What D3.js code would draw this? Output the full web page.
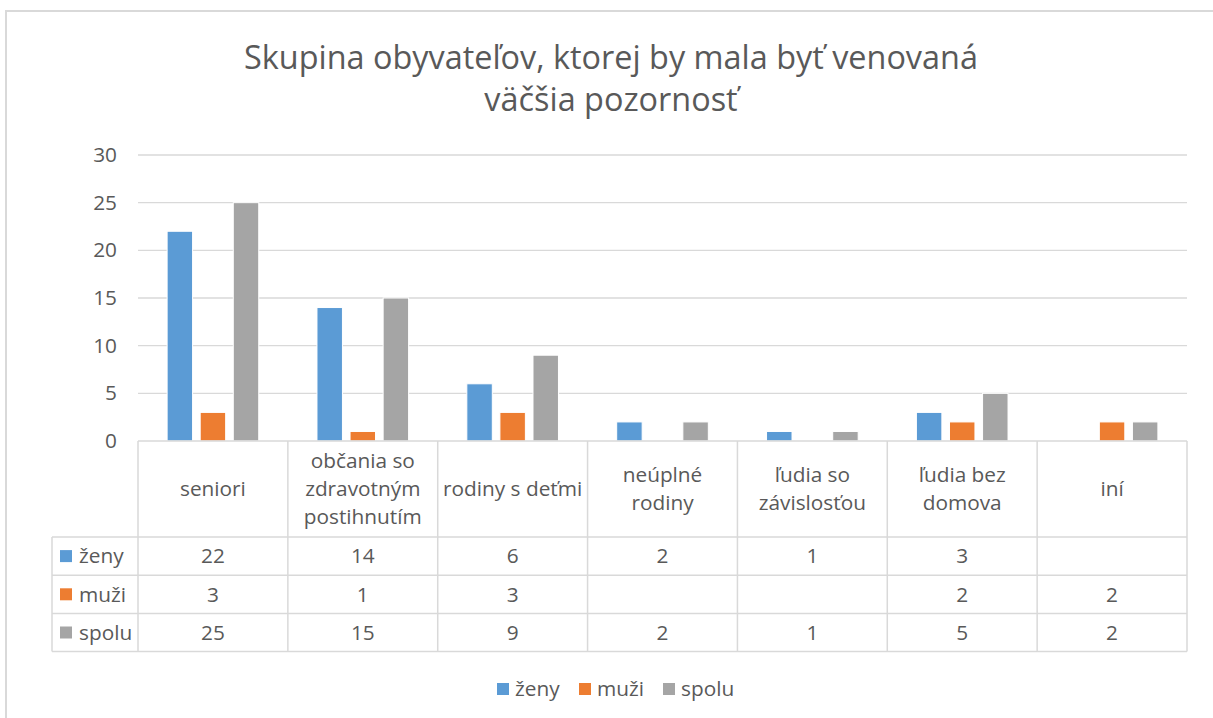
<!DOCTYPE html>
<html>
<head>
<meta charset="utf-8">
<script src="https://cdn.jsdelivr.net/npm/d3@7"></script>
<style>
  body { margin: 0; background: #fff; }
  text { font-family: "Open Sans", "Noto Sans", sans-serif; fill: #595959; }
</style>
</head>
<body>
<div id="chart"><svg></svg></div>
<script>
const titleLines = ["Skupina obyvateľov, ktorej by mala byť venovaná", "väčšia pozornosť"];

const categories = ["seniori", "občania so zdravotným postihnutím", "rodiny s deťmi",
  "neúplné rodiny", "ľudia so závislosťou", "ľudia bez domova", "iní"];
// how each category label is broken in the table header
const categoryLines = [
  ["seniori"],
  ["občania so", "zdravotným", "postihnutím"],
  ["rodiny s deťmi"],
  ["neúplné", "rodiny"],
  ["ľudia so", "závislosťou"],
  ["ľudia bez", "domova"],
  ["iní"]
];

const seriesNames = ["ženy", "muži", "spolu"];
const zeny = [22, 14, 6, 2, 1, 3, null];
const muzi = [3, 1, 3, null, null, 2, 2];
const spolu = [25, 15, 9, 2, 1, 5, 2];
const yTicks = [0, 5, 10, 15, 20, 25, 30];

const seriesValues = [zeny, muzi, spolu];
const colors = ["#5b9bd5", "#ed7d31", "#a5a5a5"];

const width = 1213;
const height = 718;
const fontSize = "20.8px";

const svg = d3.select("#chart svg")
  .attr("width", width)
  .attr("height", height);

// outer chart frame (runs off right / bottom edges like the screenshot)
svg.append("rect")
  .attr("x", 6).attr("y", 11)
  .attr("width", width + 10).attr("height", height + 10)
  .attr("fill", "#fff")
  .attr("stroke", "#d9d9d9")
  .attr("stroke-width", 2);

// title
svg.append("g")
  .selectAll("text")
  .data(titleLines)
  .join("text")
  .attr("x", 611)
  .attr("y", (d, i) => 69 + i * 42)
  .attr("text-anchor", "middle")
  .style("font-size", "32.4px")
  .text((d) => d);

const plotLeft = 138;
const plotRight = 1187;
const plotTop = 155;
const plotBottom = 441;

const x0 = d3.scaleBand()
  .domain(categories)
  .range([plotLeft, plotRight]);

const x1 = d3.scaleBand()
  .domain(seriesNames)
  .range([0, x0.bandwidth()])
  .paddingInner(0.23)
  .paddingOuter(0.88);

const y = d3.scaleLinear()
  .domain([0, 30])
  .range([plotBottom, plotTop]);

// gridlines
svg.append("g")
  .selectAll("line")
  .data(yTicks.filter((t) => t > 0))
  .join("line")
  .attr("x1", plotLeft)
  .attr("x2", plotRight)
  .attr("y1", (d) => y(d))
  .attr("y2", (d) => y(d))
  .attr("stroke", "#d9d9d9")
  .attr("stroke-width", 1.3);

// y axis labels
const yAxis = svg.append("g")
  .attr("transform", `translate(${plotLeft - 8},0)`)
  .call(d3.axisLeft(y).tickValues(yTicks).tickSize(0).tickPadding(13));
yAxis.select(".domain").remove();
yAxis.selectAll("text")
  .style("font-size", fontSize)
  .style("font-family", "'Open Sans', 'Noto Sans', sans-serif")
  .attr("fill", "#595959");

// bars
const barData = [];
categories.forEach((c, ci) => {
  seriesNames.forEach((s, si) => {
    const v = seriesValues[si][ci];
    if (v != null) barData.push({ cat: c, series: s, value: v, color: colors[si] });
  });
});

svg.append("g")
  .selectAll("rect")
  .data(barData)
  .join("rect")
  .attr("x", (d) => x0(d.cat) + x1(d.series))
  .attr("y", (d) => y(d.value))
  .attr("width", x1.bandwidth())
  .attr("height", (d) => y(0) - y(d.value))
  .attr("fill", (d) => d.color)
  .attr("stroke", "#fff")
  .attr("stroke-width", 1);

// data table
const headerHeight = 96;
const rowHeight = 38.2;
const tableLeft = 52;
const rowsTop = plotBottom + headerHeight;
const tableBottom = rowsTop + rowHeight * seriesNames.length;
const gridColor = "#d9d9d9";

const table = svg.append("g");

// horizontal lines
table.append("line")
  .attr("x1", plotLeft).attr("x2", plotRight)
  .attr("y1", plotBottom).attr("y2", plotBottom)
  .attr("stroke", gridColor).attr("stroke-width", 1.5);
table.selectAll("line.row")
  .data(d3.range(seriesNames.length + 1))
  .join("line")
  .attr("class", "row")
  .attr("x1", tableLeft).attr("x2", plotRight)
  .attr("y1", (d) => rowsTop + d * rowHeight)
  .attr("y2", (d) => rowsTop + d * rowHeight)
  .attr("stroke", gridColor).attr("stroke-width", 1.5);

// vertical lines
table.append("line")
  .attr("x1", tableLeft).attr("x2", tableLeft)
  .attr("y1", rowsTop).attr("y2", tableBottom)
  .attr("stroke", gridColor).attr("stroke-width", 1.5);
table.selectAll("line.col")
  .data(categories.concat(["end"]))
  .join("line")
  .attr("class", "col")
  .attr("x1", (d, i) => plotLeft + i * x0.step())
  .attr("x2", (d, i) => plotLeft + i * x0.step())
  .attr("y1", plotBottom).attr("y2", tableBottom)
  .attr("stroke", gridColor).attr("stroke-width", 1.5);

// header labels
const lineH = 28;
table.selectAll("text.cat")
  .data(categories)
  .join("text")
  .attr("class", "cat")
  .attr("text-anchor", "middle")
  .style("font-size", fontSize)
  .each(function (d, i) {
    const lines = categoryLines[i];
    const cx = x0(d) + x0.bandwidth() / 2;
    const cy = plotBottom + headerHeight / 2;
    d3.select(this)
      .selectAll("tspan")
      .data(lines)
      .join("tspan")
      .attr("x", cx)
      .attr("y", (l, li) => cy + (li - (lines.length - 1) / 2) * lineH)
      .attr("dy", "0.35em")
      .text((l) => l);
  });

// series rows
seriesNames.forEach((s, si) => {
  const cy = rowsTop + si * rowHeight + rowHeight / 2;
  table.append("rect")
    .attr("x", 60).attr("y", cy - 6)
    .attr("width", 12).attr("height", 12)
    .attr("fill", colors[si]);
  table.append("text")
    .attr("x", 79).attr("y", cy)
    .attr("dy", "0.35em")
    .style("font-size", fontSize)
    .text(s);
  table.selectAll(null)
    .data(seriesValues[si].map((v, ci) => ({ v, cat: categories[ci] })).filter((d) => d.v != null))
    .join("text")
    .attr("x", (d) => x0(d.cat) + x0.bandwidth() / 2)
    .attr("y", cy)
    .attr("dy", "0.35em")
    .attr("text-anchor", "middle")
    .style("font-size", fontSize)
    .text((d) => d.v);
});

// legend
const legendX = [497, 579, 663];
const legend = svg.append("g")
  .selectAll("g")
  .data(seriesNames)
  .join("g")
  .attr("transform", (d, i) => `translate(${legendX[i]},689)`);
legend.append("rect")
  .attr("x", 0).attr("y", -6)
  .attr("width", 12).attr("height", 12)
  .attr("fill", (d, i) => colors[i]);
legend.append("text")
  .attr("x", 18).attr("y", 0)
  .attr("dy", "0.35em")
  .style("font-size", fontSize)
  .text((d) => d);
</script>
</body>
</html>
